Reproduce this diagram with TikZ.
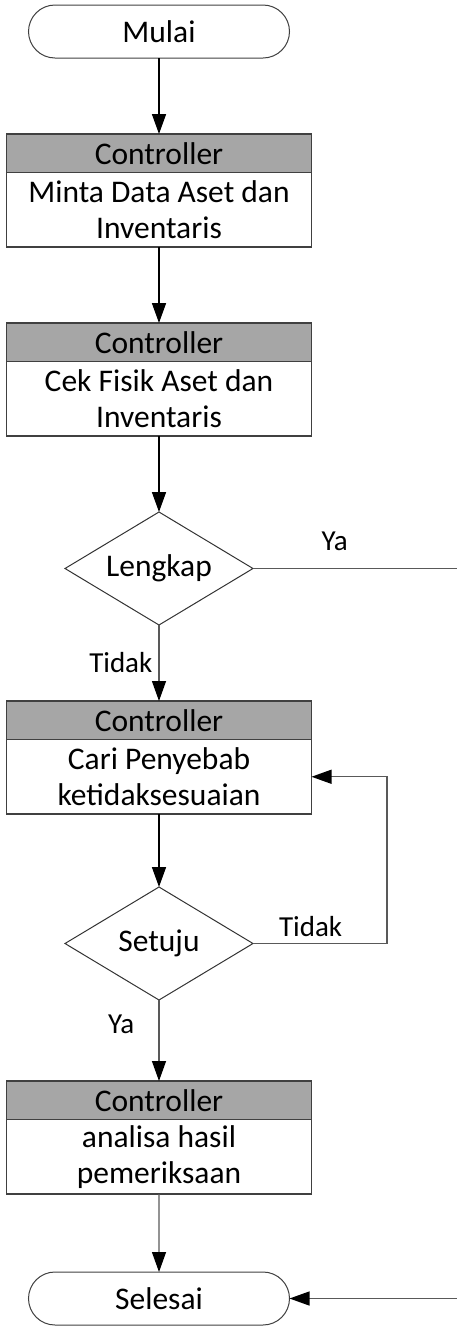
\documentclass[tikz,border=0pt]{standalone}
\usepackage{fontspec}
\setmainfont{Carlito}
\usetikzlibrary{arrows.meta,positioning,shapes.geometric,shapes.misc}

\begin{document}
\begin{tikzpicture}[x=1pt,y=-1pt,>={Triangle[length=20pt,width=14pt,color=black]},node distance=76pt,
  font=\fontsize{31.5}{36}\selectfont,
  terminal/.style={rounded rectangle,draw=black!75,line width=1pt,minimum width=261pt,minimum height=53pt,inner sep=0pt,outer sep=0pt},
  header/.style={rectangle,draw=black!75,fill=black!35,line width=1.2pt,minimum width=305pt,minimum height=38.5pt,inner sep=0pt,outer sep=0pt},
  body/.style={rectangle,draw=black!75,fill=white,line width=1.2pt,minimum width=305pt,minimum height=74.5pt,inner sep=0pt,outer sep=0pt,align=center},
  decision/.style={diamond,aspect=1.66,draw=black!80,line width=1pt,minimum width=188pt,minimum height=113pt,inner sep=0pt,outer sep=0pt},
  flow/.style={line width=1.6pt},
  branch/.style={line width=1.3pt,draw=black!65},
  lbl/.style={font=\fontsize{29}{34}\selectfont,inner sep=0pt}]

  \useasboundingbox (0,0) rectangle (457,1326);

  \node[terminal] (mulai) at (159,31.5) {Mulai};
  \node[header] (h1) [below=of mulai] {Controller};
  \node[body] (b1) [below=0pt of h1] {Minta Data Aset dan\\Inventaris};
  \node[header] (h2) [below=of b1] {Controller};
  \node[body] (b2) [below=0pt of h2] {Cek Fisik Aset dan\\Inventaris};
  \node[decision] (d1) [below=of b2] {Lengkap};
  \node[header] (h3) [below=of d1] {Controller};
  \node[body] (b3) [below=0pt of h3] {Cari Penyebab\\ketidaksesuaian};
  \node[decision] (d2) [below=73pt of b3] {Setuju};
  \node[header] (h4) [below=81pt of d2] {Controller};
  \node[body] (b4) [below=0pt of h4] {analisa hasil\\pemeriksaan};
  \node[terminal] (selesai) [below=78pt of b4] {Selesai};

  \coordinate[right=204pt of d1.east] (yaout);
  \coordinate[right=134pt of d2.east] (loop);
  \coordinate[right=167pt of selesai.east] (yain);

  \path[flow]
    (mulai) edge[->] (h1)
    (b1) edge[->] (h2)
    (b2) edge[->] (d1)
    (b3) edge[->] (d2);

  \path[branch]
    (d1) edge[->] node[lbl,pos=0.5,left=6pt] {Tidak} (h3)
    (d2) edge[->] node[lbl,pos=0.3,left=24pt] {Ya} (h4)
    (b4) edge[->] (selesai)
    (yain) edge[->] (selesai.east);

  \draw[branch] (d1.east) -- node[lbl,pos=0.4,above=17pt] {Ya} (yaout);
  \draw[branch,->] (d2.east) -- node[lbl,pos=0.43,above=6pt] {Tidak} (loop) |- (b3.east);
\end{tikzpicture}
\end{document}
